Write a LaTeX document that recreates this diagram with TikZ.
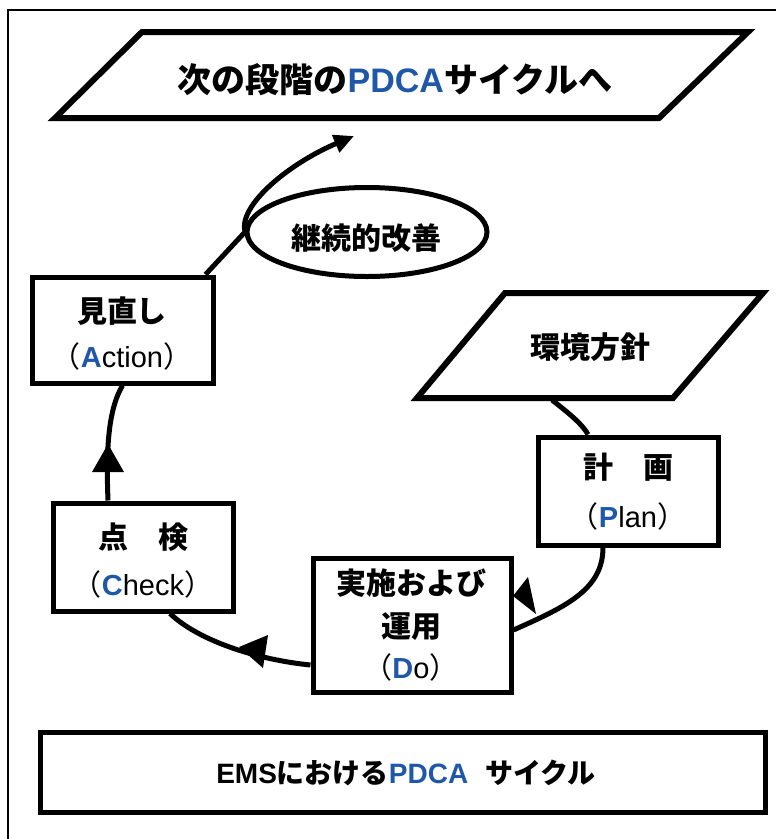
\documentclass[tikz,border=0pt]{standalone}
\usepackage{fontspec}
\usetikzlibrary{shapes.geometric,arrows.meta,calc}
\setmainfont{Noto Sans CJK JP}
\newfontfamily\lat{Liberation Sans}
\definecolor{pdblue}{HTML}{1F58A8}
\newcommand\bluL[1]{{\lat\bfseries\color{pdblue}#1}}
\newcommand\latR[1]{{\lat #1}}
\begin{document}
\begin{tikzpicture}[x=1pt,y=-1pt,
  box/.style={draw, line width=5pt, inner sep=0pt, fill=white},
  jl/.style={inner sep=0pt, font=\bfseries\fontsize{30}{34}\selectfont},
  sl/.style={inner sep=0pt, font=\fontsize{29}{34}\selectfont},
  conn/.style={line width=5pt},
  tipfill/.style={fill=black},
  shapeline/.style={line width=6pt, line join=miter}]
\useasboundingbox (0,0) rectangle (776,839);
\draw[line width=1.5pt] (8,10) rectangle (800,870);

% title parallelogram
\coordinate (t1) at (142,32);
\coordinate (t2) at (748,32);
\coordinate (t3) at (659,118);
\coordinate (t4) at (55,118);
\draw[shapeline] (t1) -- (t2) -- (t3) -- (t4) -- cycle;
\node[inner sep=0pt, font=\bfseries\fontsize{34}{38}\selectfont] (title) at (395,80)
  {次の段階の\bluL{PDCA}サイクルへ};

% policy parallelogram
\coordinate (p1) at (505,293);
\coordinate (p2) at (763,293);
\coordinate (p3) at (673,398);
\coordinate (p4) at (417,398);
\draw[shapeline] (p1) -- (p2) -- (p3) -- (p4) -- cycle;
\node[jl] (pol) at (590,347) {環境方針};
\coordinate (polb) at (552,400);

% ellipse
\node[draw, ellipse, line width=5pt, minimum width=240pt, minimum height=89pt, inner sep=0pt] (kai) at (367,232) {};
\node[jl] (kait) at (366,238) {継続的改善};

% boxes
\node[box, minimum width=181pt, minimum height=106pt] (act) at (122.5,330) {};
\node[box, minimum width=180pt, minimum height=108pt] (chk) at (143,557) {};
\node[box, minimum width=180pt, minimum height=108pt] (pln) at (628,491) {};
\node[box, minimum width=198pt, minimum height=134pt] (dox) at (412,625) {};
\node[box, minimum width=725pt, minimum height=80pt] (ems) at (402.5,772.5) {};

% box texts
\node[jl] (actj) at (122,311) {見直し};
\node[sl] (acte) at (122,356) {（\bluL{A}\latR{ction}）};
\node[jl] (chkj) at (143,537) {点\hspace{1em}検};
\node[sl] (chke) at (143,584) {（\bluL{C}\latR{heck}）};
\node[jl] (plnj) at (628,467) {計\hspace{1em}画};
\node[sl] (plne) at (628,516) {（\bluL{P}\latR{lan}）};
\node[jl] (doj1) at (411,583) {実施および};
\node[jl] (doj2) at (411,627) {運用};
\node[sl] (doe) at (411,667) {（\bluL{D}\latR{o}）};
\node[inner sep=0pt, font=\bfseries\fontsize{28}{32}\selectfont] (emst) at (406,773)
  {{\lat\bfseries EMS}における\bluL{PDCA}\hspace{0.6em}サイクル};

% connectors
\draw[conn] (polb) .. controls (570,414) and (583,425) .. ($(pln.north)+(-40,0)$);
\draw[conn] ($(pln.south)+(-25,0)$) .. controls (603,590) and (565,607) .. ($(dox.east)+(0,5)$);
\fill[tipfill] (513,596) -- (528,577) -- (536,614) -- cycle;
\draw[conn] ($(dox.west)+(0,40)$) .. controls (260,660) and (200,642) .. ($(chk.south)+(27,0)$);
\fill[tipfill] (239,647) -- (268,635) -- (263,668) -- cycle;
\draw[conn] ($(chk.north)+(-35,0)$) .. controls (106,450) and (108,410) .. (act.south);
\fill[tipfill] (108,444) -- (92,472) -- (124,472) -- cycle;
\draw[conn, -{Triangle[length=20pt,width=18pt]}] ($(act.north east)+(-10,0)$) -- (245,232)
  .. controls (238,205) and (290,163) .. (354,136);
\end{tikzpicture}
\end{document}
